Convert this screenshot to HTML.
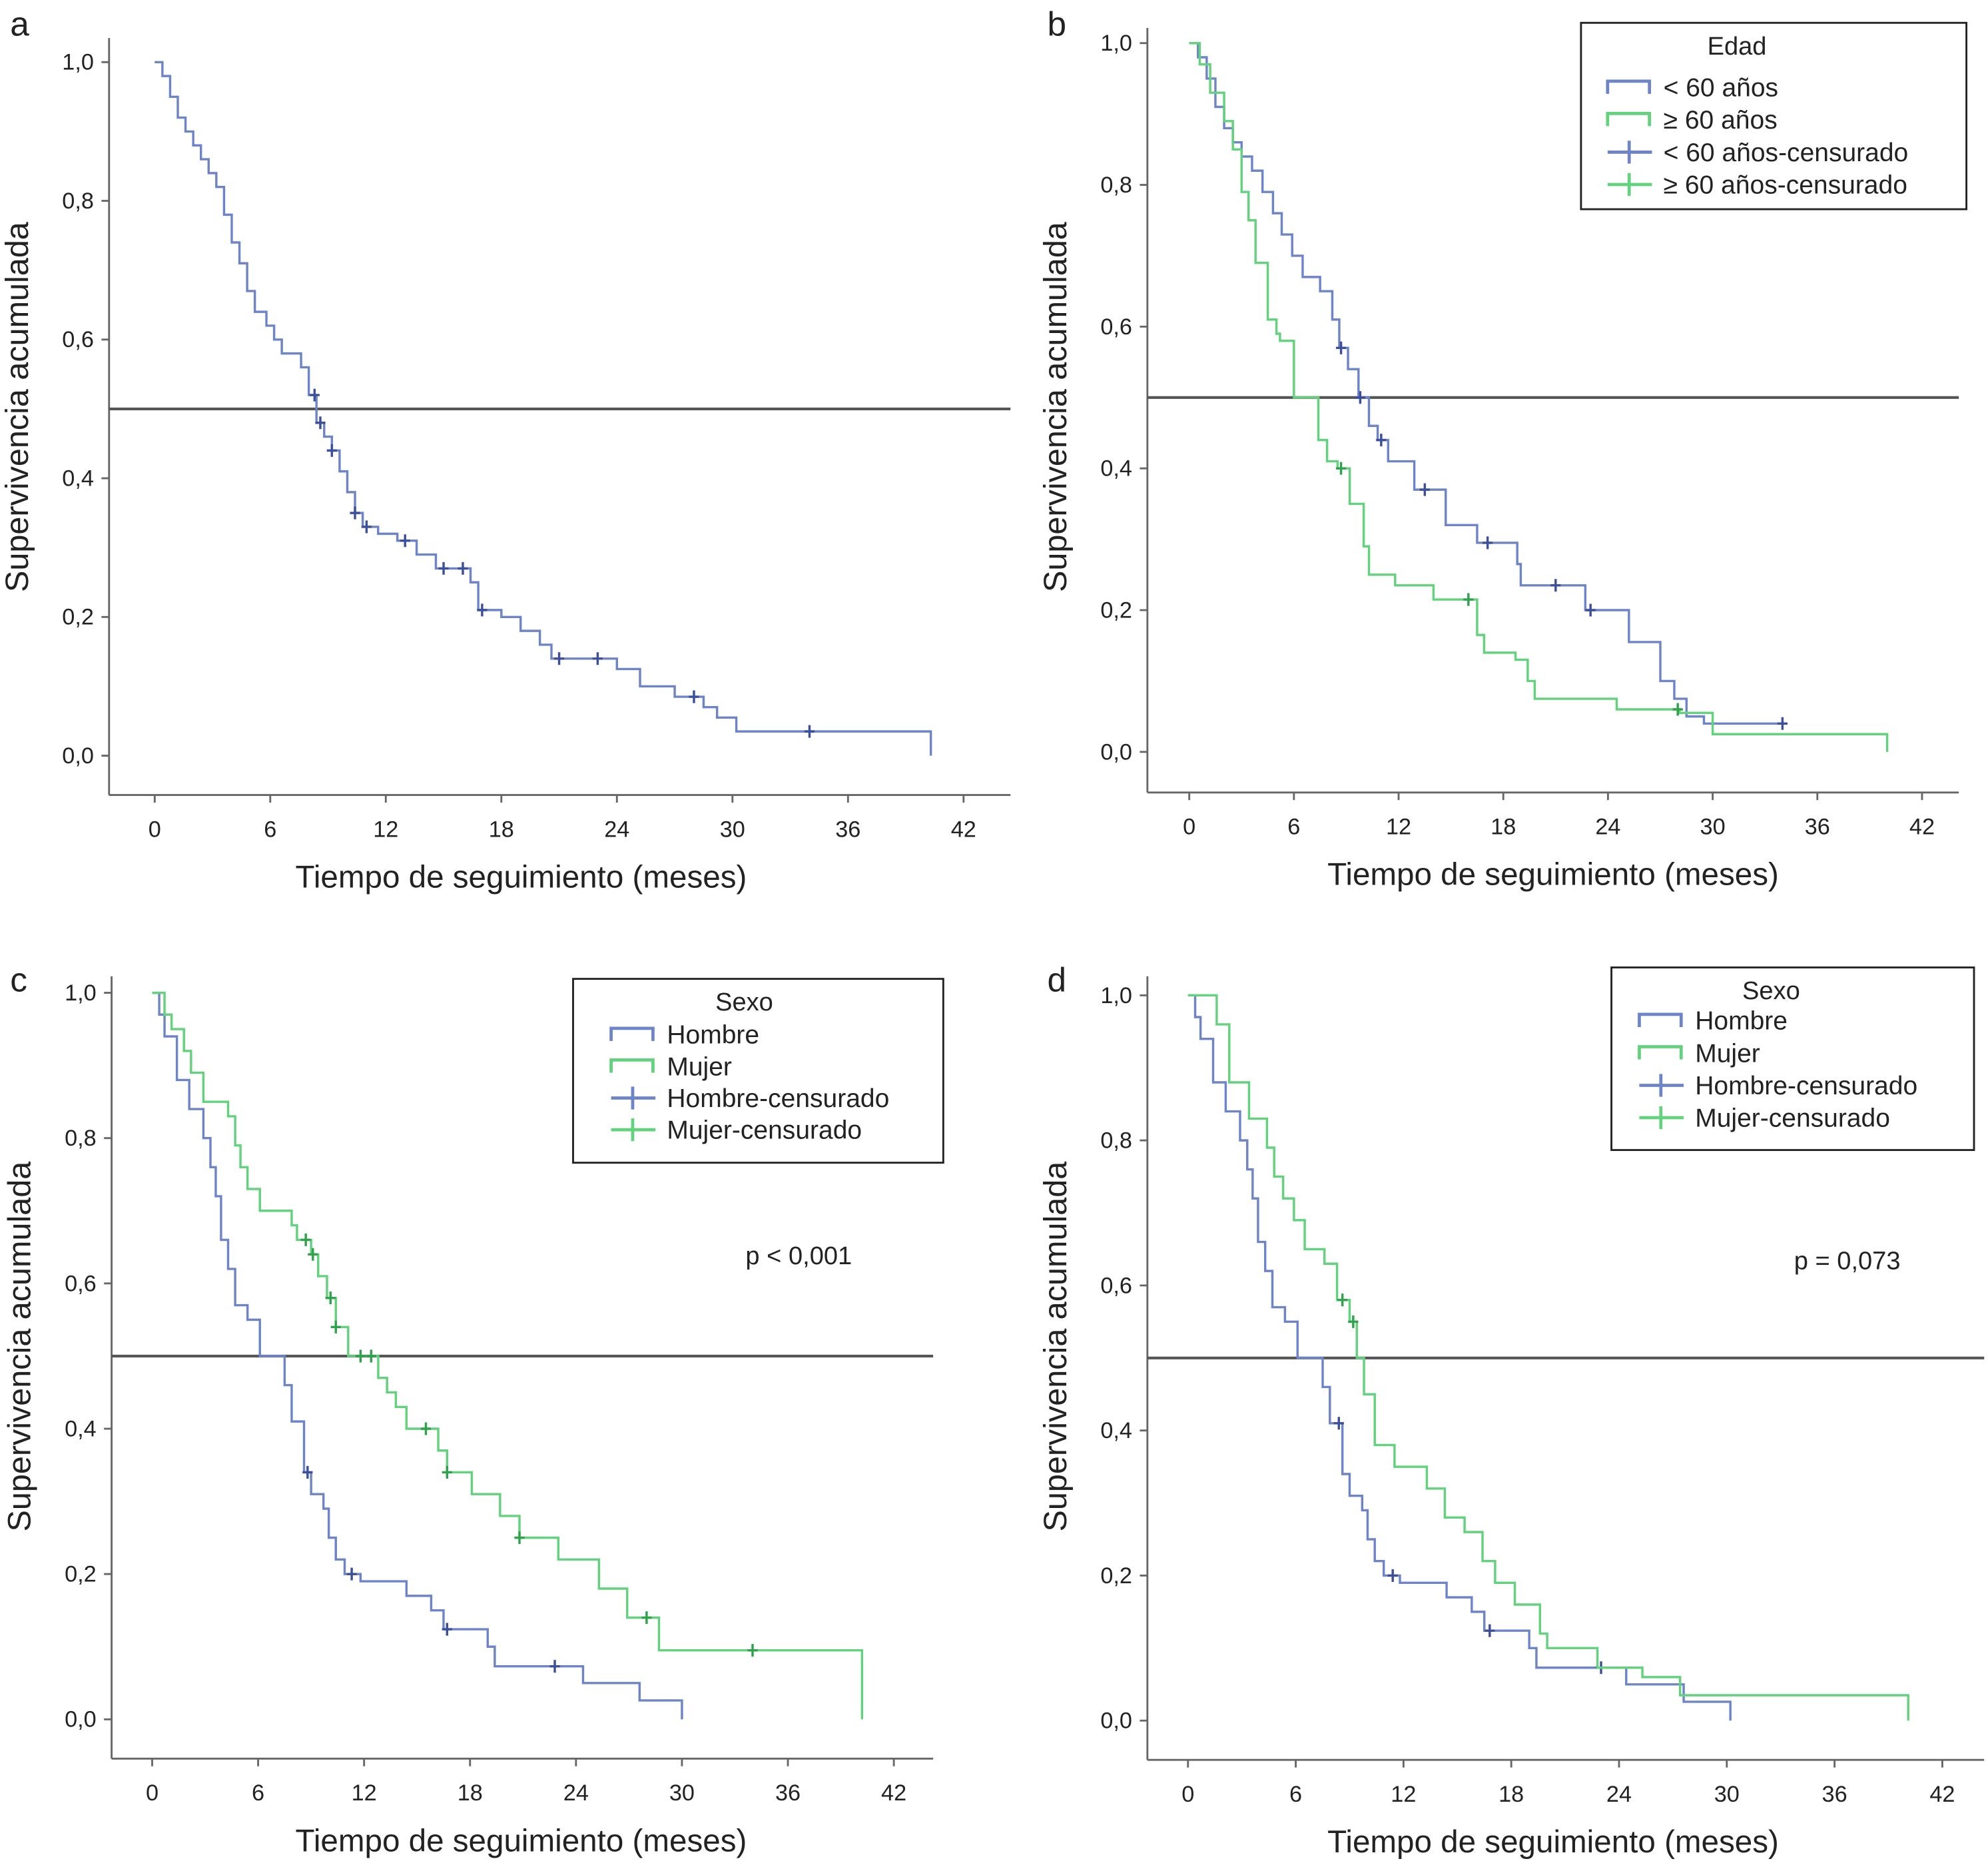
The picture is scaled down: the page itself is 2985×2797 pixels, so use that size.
<!DOCTYPE html>
<html><head><meta charset="utf-8"><style>
html,body{margin:0;padding:0;background:#fff}
svg{display:block}
text{font-family:"Liberation Sans",sans-serif;fill:#222}
</style></head><body>
<svg id="chart" width="2985" height="2797" viewBox="0 0 1568 1469.3" xmlns="http://www.w3.org/2000/svg"></svg>
<script>
// ---- Data (time in months, cumulative survival) ----
const xTicks = [0,6,12,18,24,30,36,42];
const yTicks = [0,0.2,0.4,0.6,0.8,1.0];
const yTickLabels = ["0,0","0,2","0,4","0,6","0,8","1,0"];

const aT = [0.4,0.8,1.2,1.6,2.0,2.4,2.8,3.2,3.6,4.0,4.4,4.8,5.2,5.8,6.2,6.6,7.6,8.0,8.4,8.8,9.2,9.6,10.0,10.4,10.8,11.6,12.6,13.6,14.6,16.4,16.8,18.0,19.0,20.0,20.6,24.0,25.2,27.0,28.5,29.2,30.2];
const aS = [0.98,0.95,0.92,0.90,0.88,0.86,0.84,0.82,0.78,0.74,0.71,0.67,0.64,0.62,0.60,0.58,0.56,0.52,0.48,0.46,0.44,0.41,0.38,0.35,0.33,0.32,0.31,0.29,0.27,0.25,0.21,0.20,0.18,0.16,0.14,0.125,0.10,0.085,0.07,0.055,0.035];
const aCens = [8.3,8.6,9.2,10.4,11.0,13.0,15.0,16.0,17.0,21.0,23.0,28.0,34.0];

const bBlueT = [0.5,1.0,1.5,2.0,2.5,3.0,3.6,4.2,4.8,5.3,5.9,6.5,7.5,8.2,8.6,9.1,9.7,10.3,10.8,11.4,12.9,14.7,16.5,18.8,19.0,22.7,25.2,27.0,27.8,28.5,29.5];
const bBlueS = [0.98,0.95,0.91,0.88,0.86,0.84,0.82,0.79,0.76,0.73,0.70,0.67,0.65,0.61,0.57,0.54,0.50,0.46,0.44,0.41,0.37,0.32,0.295,0.265,0.235,0.20,0.155,0.10,0.075,0.05,0.04];
const bBlueCens = [8.7,9.8,11.0,13.5,17.1,21.0,23.0,34.0];
const bGreenT = [0.6,1.2,2.0,2.5,3.0,3.4,3.8,4.5,5.0,5.2,6.0,7.4,7.9,8.5,9.2,10.0,10.3,11.8,14.0,16.5,16.9,18.7,19.4,19.8,24.5,28.1,30.0];
const bGreenS = [0.97,0.93,0.89,0.85,0.79,0.75,0.69,0.61,0.59,0.58,0.50,0.44,0.41,0.40,0.35,0.29,0.25,0.235,0.215,0.165,0.14,0.13,0.10,0.075,0.06,0.055,0.025];
const bGreenCens = [8.7,16.0,28.0];

const cBlueT = [0.4,0.7,1.4,2.1,2.9,3.3,3.6,3.9,4.3,4.7,5.4,6.1,7.5,7.9,8.6,9.0,9.7,10.0,10.4,10.9,11.8,14.4,15.8,16.5,19.0,19.4,24.4,27.6];
const cBlueS = [0.97,0.94,0.88,0.84,0.80,0.76,0.72,0.66,0.62,0.57,0.55,0.50,0.46,0.41,0.34,0.31,0.29,0.25,0.22,0.20,0.19,0.17,0.15,0.124,0.10,0.073,0.05,0.026];
const cBlueCens = [8.8,11.3,16.7,22.8];
const cGreenT = [0.7,1.1,1.8,2.2,2.9,4.3,4.7,5.0,5.4,6.1,7.9,8.2,9.0,9.4,9.9,10.4,11.1,12.8,13.3,13.8,14.4,16.2,16.7,18.1,19.7,20.8,23.0,25.3,26.9,28.7];
const cGreenS = [0.97,0.95,0.92,0.89,0.85,0.83,0.79,0.76,0.73,0.70,0.68,0.66,0.64,0.61,0.58,0.54,0.50,0.47,0.45,0.43,0.40,0.37,0.34,0.31,0.28,0.25,0.22,0.18,0.14,0.095];
const cGreenCens = [8.7,9.1,10.1,10.4,11.8,12.4,15.5,16.7,20.8,28.0,34.0];

const dBlueT = [0.4,0.7,1.4,2.1,2.9,3.3,3.6,3.9,4.3,4.7,5.4,6.1,7.5,7.9,8.6,9.0,9.7,10.0,10.4,10.9,11.8,14.4,15.8,16.5,19.0,19.4,24.4,27.6];
const dBlueS = [0.97,0.94,0.88,0.84,0.80,0.76,0.72,0.66,0.62,0.57,0.55,0.50,0.46,0.41,0.34,0.31,0.29,0.25,0.22,0.20,0.19,0.17,0.15,0.124,0.10,0.073,0.05,0.026];
const dBlueCens = [8.4,11.4,16.8,23.0];
const dGreenT = [1.6,2.3,3.4,4.4,4.8,5.3,5.9,6.5,7.6,8.3,9.0,9.4,9.8,10.4,11.5,13.3,14.3,15.4,16.4,17.1,18.2,19.6,20.0,22.8,25.3,27.4];
const dGreenS = [0.96,0.88,0.83,0.79,0.75,0.72,0.69,0.65,0.63,0.58,0.55,0.50,0.45,0.38,0.35,0.32,0.28,0.26,0.22,0.19,0.16,0.12,0.10,0.073,0.06,0.035];
const dGreenCens = [8.6,9.2];

const BLUE = "#6e84c8", GREEN = "#62d27c";
const svg = document.getElementById('chart');
const NS = "http://www.w3.org/2000/svg";
function mk(tag, attrs, parent){const e=document.createElementNS(NS,tag);for(const k in attrs)e.setAttribute(k,attrs[k]);(parent||svg).appendChild(e);return e;}

function survAt(T,S,t){let s=1;for(let i=0;i<T.length;i++){if(T[i]<=t)s=S[i];}return s;}

function panel(p){
  const g = mk('g',{});
  
  
  const X = t => p.x0 + (t/42)*(p.x42-p.x0);
  const Y = s => p.y0 - s*(p.y0-p.y1);
  const ya = mk('line',{x1:p.ax,y1:p.axTop,x2:p.ax,y2:p.axY,stroke:'#666','stroke-width':1.5},g);
  
  const xa = mk('line',{x1:p.ax,y1:p.axY,x2:p.axRight,y2:p.axY,stroke:'#666','stroke-width':1.5},g);
  
  xTicks.forEach(t=>{
    mk('line',{x1:X(t),y1:p.axY,x2:X(t),y2:p.axY+6,stroke:'#666','stroke-width':1.5},g);
    const tx=mk('text',{x:X(t),y:p.axY+33,'text-anchor':'middle','font-size':18},g);
    tx.textContent=t;
    
  });
  yTicks.forEach((v,i)=>{
    mk('line',{x1:p.ax-6,y1:Y(v),x2:p.ax,y2:Y(v),stroke:'#666','stroke-width':1.5},g);
    const tx=mk('text',{x:p.ax-12,y:Y(v)+6,'text-anchor':'end','font-size':18},g);
    tx.textContent=yTickLabels[i];
    
  });
  const xt=mk('text',{x:p.tx,y:p.axY+73,'text-anchor':'middle','font-size':25},g);
  xt.textContent='Tiempo de seguimiento (meses)';
  
  const yt=mk('text',{x:0,y:0,'text-anchor':'middle','font-size':25.5,transform:`translate(${p.ax-64},${p.ty}) rotate(-90)`},g);
  yt.textContent='Supervivencia acumulada';
  
  const lt=mk('text',{x:p.lx,y:p.ly,'font-size':27},g);
  lt.textContent=p.letter;
  
  const ml=mk('line',{x1:p.ax,y1:Y(0.5),x2:p.medEnd,y2:Y(0.5),stroke:'#555','stroke-width':2.2},g);
  
  p.series.forEach(se=>{
    let d=`M${X(0)},${Y(1)}`;
    se.T.forEach((t,i)=>{d+=` H${X(t)} V${Y(se.S[i])}`;});
    d+=` H${X(se.end)}`;
    if(se.drop) d+=` V${Y(0)}`;
    const path=mk('path',{d:d,fill:'none',stroke:se.color,'stroke-width':1.8},g);
    
    
    se.C.forEach(t=>{
      const s=survAt(se.T,se.S,t);
      const c=mk('path',{d:`M${X(t)},${Y(s)-5} V${Y(s)+5} M${X(t)-4},${Y(s)} H${X(t)+4}`,stroke:se.cColor,'stroke-width':1.8},g);
      
      
    });
  });
  if(p.legend){
    const L=p.legend;
    const lg=mk('g',{},g);
    
    mk('rect',{x:L.x,y:L.y,width:L.w,height:L.h,fill:'#fff',stroke:'#222','stroke-width':1.5},lg);
    const tt=mk('text',{x:L.tx,y:L.y+25,'text-anchor':'middle','font-size':20},lg);
    tt.textContent=L.title;
    
    L.items.forEach((it,i)=>{
      const yy=L.y+L.first+i*L.step;
      const ix=L.ix;
      if(it.step) mk('path',{d:`M${ix},${yy+5} V${yy-5} H${ix+33} V${yy+5}`,fill:'none',stroke:it.color,'stroke-width':2.5},lg);
      else mk('path',{d:`M${ix},${yy} H${ix+35} M${ix+17},${yy-9} V${yy+9}`,stroke:it.color,'stroke-width':2.5},lg);
      const et=mk('text',{x:ix+44,y:yy+7,'font-size':20.5},lg);
      et.textContent=it.label;
      
    });
  }
  if(p.pval){
    const pt=mk('text',{x:p.pval.x,y:p.pval.y,'text-anchor':'middle','font-size':20},g);
    pt.textContent=p.pval.text;
    
  }
}

panel({letter:'a',lx:8,ly:28,ax:86,axTop:30,axY:627,axRight:797,x0:122,x42:760,y0:596,y1:49,medEnd:797,tx:411,ty:321,
  series:[{name:'overall',T:aT,S:aS,C:aCens,end:40.3,drop:true,color:BLUE,cColor:'#3c4f9a'}]});

panel({letter:'b',lx:826,ly:28,ax:905,axTop:22,axY:625,axRight:1545,x0:938,x42:1516,y0:593,y1:34,medEnd:1545,tx:1225,ty:321,
  series:[{name:'under-60',T:bBlueT,S:bBlueS,C:bBlueCens,end:34,drop:false,color:BLUE,cColor:'#3c4f9a'},
          {name:'over-60',T:bGreenT,S:bGreenS,C:bGreenCens,end:40,drop:true,color:GREEN,cColor:'#2fa24c'}],
  legend:{x:1247,y:18,w:304,h:147,tx:1370,title:'Edad',ix:1268,first:51,step:25.5,items:[
    {step:true,color:BLUE,label:'< 60 años'},{step:true,color:GREEN,label:'≥ 60 años'},
    {step:false,color:BLUE,label:'< 60 años-censurado'},{step:false,color:GREEN,label:'≥ 60 años-censurado'}]}});

panel({letter:'c',lx:8,ly:782,ax:88,axTop:770,axY:1387,axRight:736,x0:120,x42:705,y0:1356,y1:783,medEnd:736,tx:411,ty:1062,
  series:[{name:'hombre',T:cBlueT,S:cBlueS,C:cBlueCens,end:30,drop:true,color:BLUE,cColor:'#3c4f9a'},
          {name:'mujer',T:cGreenT,S:cGreenS,C:cGreenCens,end:40.2,drop:true,color:GREEN,cColor:'#2fa24c'}],
  legend:{x:452,y:772,w:292,h:145,tx:587,title:'Sexo',ix:482,first:44,step:25,items:[
    {step:true,color:BLUE,label:'Hombre'},{step:true,color:GREEN,label:'Mujer'},
    {step:false,color:BLUE,label:'Hombre-censurado'},{step:false,color:GREEN,label:'Mujer-censurado'}]},
  pval:{x:630,y:997,text:'p < 0,001'}});

panel({letter:'d',lx:826,ly:782,ax:905,axTop:770,axY:1388,axRight:1565,x0:937,x42:1532,y0:1357,y1:785,medEnd:1565,tx:1225,ty:1062,
  series:[{name:'hombre',T:dBlueT,S:dBlueS,C:dBlueCens,end:30.2,drop:true,color:BLUE,cColor:'#3c4f9a'},
          {name:'mujer',T:dGreenT,S:dGreenS,C:dGreenCens,end:40.1,drop:true,color:GREEN,cColor:'#2fa24c'}],
  legend:{x:1271,y:763,w:286,h:144,tx:1397,title:'Sexo',ix:1293,first:42,step:25.5,items:[
    {step:true,color:BLUE,label:'Hombre'},{step:true,color:GREEN,label:'Mujer'},
    {step:false,color:BLUE,label:'Hombre-censurado'},{step:false,color:GREEN,label:'Mujer-censurado'}]},
  pval:{x:1457,y:1001,text:'p = 0,073'}});
</script>
</body></html>
